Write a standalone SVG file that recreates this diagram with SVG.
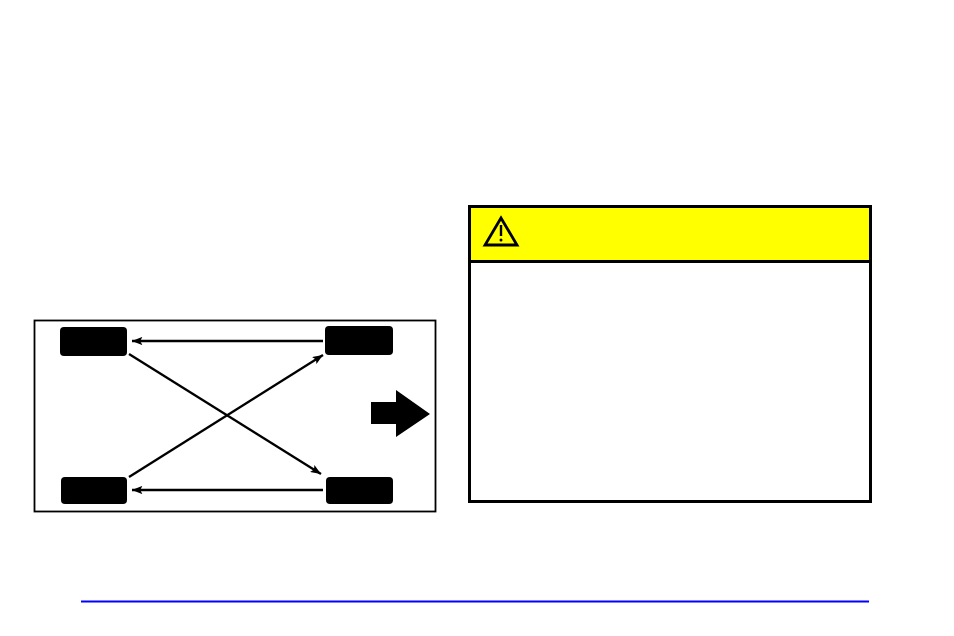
<svg xmlns="http://www.w3.org/2000/svg" width="954" height="636" viewBox="0 0 954 636">
<defs>
<style>
.tire{fill:#000;}
.conn{stroke:#000;stroke-width:2.3;fill:none;marker-end:url(#ah);}
</style>
<marker id="ah" viewBox="0 0 10 8" refX="10" refY="4" markerWidth="5" markerHeight="3.6" orient="auto" markerUnits="strokeWidth">
<path d="M0,0 L10,4 L0,8 L2,4 Z" fill="#000"/>
</marker>
</defs>
<rect width="954" height="636" fill="#fff"/>
<g id="frame">
<rect x="34.5" y="320.5" width="401" height="191" fill="none" stroke="#000" stroke-width="1.8"/>
</g>
<g id="tire-front-left"><rect class="tire" x="60" y="327" width="67" height="29" rx="4"/></g>
<g id="tire-front-right"><rect class="tire" x="325" y="326" width="68" height="29" rx="4"/></g>
<g id="tire-rear-left"><rect class="tire" x="61" y="477" width="66" height="27" rx="4"/></g>
<g id="tire-rear-right"><rect class="tire" x="326" y="477" width="67" height="27" rx="4"/></g>
<g id="direction-arrow">
<polygon points="371,402 396,402 396,390 430,414 396,437 396,424 371,424" fill="#000"/>
</g>
<g id="connectors">
<line class="conn" x1="323" y1="341" x2="132" y2="341"/>
<line class="conn" x1="323" y1="490" x2="132" y2="490"/>
<line class="conn" x1="129" y1="354" x2="321" y2="474"/>
<line class="conn" x1="129" y1="477" x2="323" y2="355"/>
</g>
<g id="caution-box">
<rect x="469.5" y="206.5" width="401" height="295" fill="#fff" stroke="#000" stroke-width="3"/>
<rect x="471" y="208" width="398" height="52" fill="#ffff00"/>
<line x1="469" y1="261.5" x2="871" y2="261.5" stroke="#000" stroke-width="3"/>
<polygon points="501,218 485,245 517,245" fill="none" stroke="#000" stroke-width="2.8" stroke-linejoin="miter"/>
<line x1="501" y1="225" x2="501" y2="236" stroke="#000" stroke-width="2.4"/>
<circle cx="501" cy="240" r="1.5" fill="#000"/>
</g>
<g id="footer-rule">
<line x1="81" y1="601.5" x2="869" y2="601.5" stroke="#0000ff" stroke-width="2"/>
</g>
</svg>
